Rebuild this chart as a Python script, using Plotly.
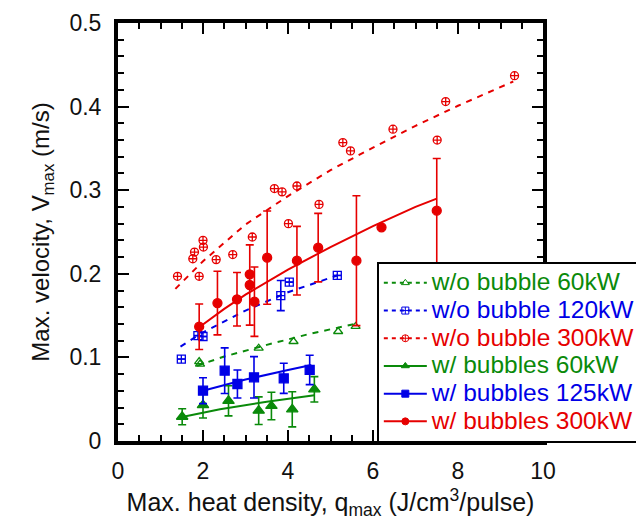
import plotly.graph_objects as go

RED = '#e60000'
BLUE = '#0000e6'
GREEN = '#0a8a0a'

# ---------------- data ----------------
# w/o bubble 60kW
wo60_x = [1.91, 1.93, 3.31, 4.13, 5.18, 5.59]
wo60_y = [0.095, 0.092, 0.111, 0.119, 0.131, 0.137]
wo60_fit_x = [1.86, 2.5, 3.5, 4.5, 5.66]
wo60_fit_y = [0.090, 0.101, 0.115, 0.128, 0.141]

# w/o bubble 120kW
wo120_x = [1.49, 1.88, 2.00, 3.83, 4.03, 5.16]
wo120_y = [0.098, 0.126, 0.125, 0.174, 0.190, 0.198]
wo120_err = [None, None, None, 0.018, None, None]
wo120_fit_x = [1.47, 2.0, 3.0, 4.0, 5.16]
wo120_fit_y = [0.113, 0.130, 0.156, 0.178, 0.198]

# w/o bubble 300kW
wo300_x = [1.40, 1.76, 1.80, 1.91, 2.00, 2.01, 2.31, 2.70, 3.16, 3.68,
           3.86, 4.01, 4.21, 4.73, 5.29, 5.47, 6.47, 7.51, 7.71, 9.33]
wo300_y = [0.197, 0.218, 0.226, 0.197, 0.240, 0.232, 0.217, 0.223, 0.244, 0.302,
           0.298, 0.260, 0.305, 0.283, 0.357, 0.347, 0.373, 0.360, 0.406, 0.437]
wo300_fit_x = [1.35, 2.0, 3.0, 4.0, 5.0, 6.0, 7.0, 8.0, 9.3]
wo300_fit_y = [0.182, 0.215, 0.259, 0.293, 0.324, 0.351, 0.377, 0.401, 0.430]

# w/ bubbles 60kW
w60_x = [1.51, 2.00, 2.60, 3.31, 3.61, 4.10, 4.62]
w60_y = [0.029, 0.043, 0.048, 0.0363, 0.0419, 0.0379, 0.0618]
w60_err = [0.0095, 0.0155, 0.018, 0.0165, 0.0165, 0.021, 0.0152]
w60_fit_x = [1.45, 2.4, 3.5, 4.62]
w60_fit_y = [0.028, 0.038, 0.047, 0.0546]

# w/ bubbles 125kW
w125_x = [2.00, 2.51, 2.81, 3.20, 3.90, 4.51]
w125_y = [0.0602, 0.0841, 0.0682, 0.0762, 0.075, 0.085]
w125_err = [0.0155, 0.0273, 0.0168, 0.0247, 0.018, 0.0176]
w125_fit_x = [2.0, 3.0, 4.0, 4.55]
w125_fit_y = [0.060, 0.0735, 0.085, 0.091]

# w/ bubbles 300kW
w300_x = [1.91, 2.34, 2.80, 3.10, 3.10, 3.21, 3.51, 4.21, 4.71, 5.61, 6.20, 7.50]
w300_y = [0.1367, 0.165, 0.1695, 0.1994, 0.1866, 0.1666, 0.2193, 0.2157, 0.2313, 0.2157, 0.2556, 0.2755]
w300_err = [0.0272, 0.038, 0.032, None, 0.048, 0.0415, 0.0558, 0.041, 0.041, 0.0777, None, 0.0625]
w300_fit_x = [1.91, 2.5, 3.0, 4.0, 5.0, 6.0, 7.0, 7.5]
w300_fit_y = [0.136, 0.158, 0.175, 0.205, 0.232, 0.257, 0.280, 0.290]

legend_names = ['w/o bubble 60kW', 'w/o bubble 120kW', 'w/o bubble 300kW',
                'w/ bubbles 60kW', 'w/ bubbles 125kW', 'w/ bubbles 300kW']

FONT = 'Liberation Sans, Arial, sans-serif'

fig = go.Figure()

# fit lines
fits = [
    (wo60_fit_x, wo60_fit_y, GREEN, 'dash'),
    (wo120_fit_x, wo120_fit_y, BLUE, 'dash'),
    (wo300_fit_x, wo300_fit_y, RED, 'dash'),
    (w60_fit_x, w60_fit_y, GREEN, 'solid'),
    (w125_fit_x, w125_fit_y, BLUE, 'solid'),
    (w300_fit_x, w300_fit_y, RED, 'solid'),
]
for fx, fy, c, d in fits:
    fig.add_trace(go.Scatter(x=fx, y=fy, mode='lines', showlegend=False,
                             line=dict(color=c, width=2, dash=('6px,6px' if d == 'dash' else 'solid'))))

def err(arr, c):
    if arr is None:
        return None
    return dict(type='data', array=arr, visible=True, color=c, thickness=1.6, width=4)

series = [
    (wo60_x, wo60_y, None, GREEN, 'triangle-up-open', 8),
    (wo120_x, wo120_y, wo120_err, BLUE, 'square-cross-open', 8),
    (wo300_x, wo300_y, None, RED, 'circle-cross-open', 8),
    (w60_x, w60_y, w60_err, GREEN, 'triangle-up', 10),
    (w125_x, w125_y, w125_err, BLUE, 'square', 9),
    (w300_x, w300_y, w300_err, RED, 'circle', 9),
]
for sx, sy, se, c, sym, sz in series:
    fig.add_trace(go.Scatter(x=sx, y=sy, mode='markers', showlegend=False,
                             marker=dict(symbol=sym, size=sz, color=c,
                                         line=dict(color=c, width=1.3)),
                             error_y=err(se, c)))

# legend entries
leg_styles = [
    (GREEN, 'triangle-up-open', 'dash'),
    (BLUE, 'square-cross-open', 'dash'),
    (RED, 'circle-cross-open', 'dash'),
    (GREEN, 'triangle-up', 'solid'),
    (BLUE, 'square', 'solid'),
    (RED, 'circle', 'solid'),
]
for name, (c, sym, d) in zip(legend_names, leg_styles):
    fig.add_trace(go.Scatter(x=[None], y=[None], mode='lines+markers',
                             name=f"<span style='color:{c};font-size:24.5px'>{name}</span>",
                             line=dict(color=c, width=2, dash=('4px,4px' if d == 'dash' else 'solid')),
                             marker=dict(symbol=sym, size=7, color=c, line=dict(color=c, width=1))))

axis_common = dict(showline=True, linecolor='black', linewidth=4, mirror='ticks',
                   ticks='inside', ticklen=11, tickwidth=2, tickcolor='black',
                   showgrid=False, zeroline=False, automargin=False,
                   tickfont=dict(family=FONT, size=23, color='#111'))

fig.update_layout(
    width=644, height=524,
    margin=dict(l=110, r=109, t=15, b=91, autoexpand=False),
    paper_bgcolor='white', plot_bgcolor='white',
    font=dict(family=FONT, size=23, color='#111'),
    xaxis=dict(range=[0, 10], dtick=2, tick0=0,
               minor=dict(dtick=0.5, ticks='inside', ticklen=6, tickwidth=2, tickcolor='black'),
               ticklabelstandoff=6,
               title=dict(text='Max. heat density, q<sub>max</sub> (J/cm<sup>3</sup>/pulse)',
                          font=dict(family=FONT, size=25, color='#111'), standoff=12),
               **axis_common),
    yaxis=dict(range=[0, 0.5], dtick=0.1, tick0=0,
               minor=dict(dtick=0.02, ticks='inside', ticklen=6, tickwidth=2, tickcolor='black'),
               ticklabelstandoff=8,
               title=dict(text='Max. velocity, V<sub>max</sub> (m/s)',
                          font=dict(family=FONT, size=24, color='#111'), standoff=14),
               **axis_common),
    legend=dict(x=0.609, y=0.4282, xanchor='left', yanchor='top',
                bgcolor='white', bordercolor='black', borderwidth=2,
                font=dict(family=FONT, size=19), itemwidth=43, tracegroupgap=0,
                traceorder='normal'),
)

fig.write_html('out.html')
